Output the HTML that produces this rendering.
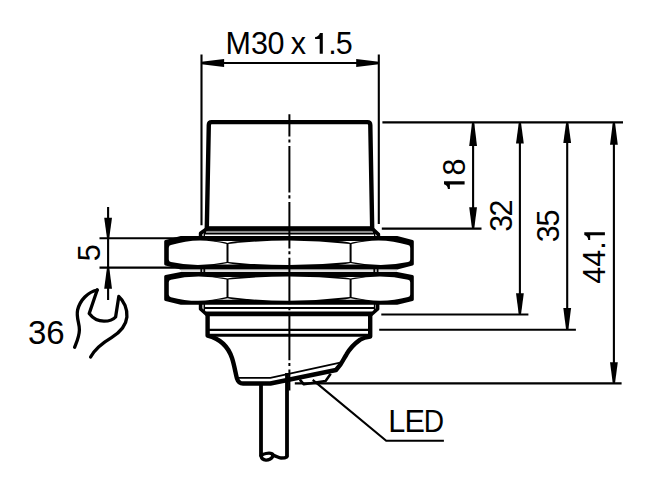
<!DOCTYPE html>
<html><head><meta charset="utf-8"><style>
html,body{margin:0;padding:0;background:#fff;}
svg{display:block;}
.t{fill:none;stroke:#000;stroke-width:2.1;}
.k{fill:none;stroke:#000;stroke-width:4.4;stroke-linejoin:round;}
.m{fill:none;stroke:#000;stroke-width:3.2;stroke-linejoin:round;}
.c{fill:none;stroke:#000;stroke-width:3.8;}
.w{fill:none;stroke:#000;stroke-width:3.3;stroke-linecap:round;stroke-linejoin:round;}
.f{fill:#000;stroke:none;}
.txt{font-family:"Liberation Sans",sans-serif;font-size:30px;fill:#000;}
</style></head><body>
<svg width="650" height="496" viewBox="0 0 650 496">
<g class="t"><path d="M201.5 54.5V225.2 M378.8 54.5V224 M201.5 63H378.8"/></g><path class="f" d="M201.50 61.80 L201.50 64.20 L224.10 66.90 L224.10 59.10Z"/><path class="f" d="M378.80 61.80 L378.80 64.20 L356.20 66.90 L356.20 59.10Z"/><text class="txt" style="font-size:30.5px" x="225.40" y="53.80">M</text><text class="txt" style="font-size:30.5px" x="251.00" y="53.80">3</text><text class="txt" style="font-size:30.5px" x="267.40" y="53.80">0</text><text class="txt" style="font-size:30.5px" x="290.80" y="53.80">x</text><text class="txt" style="font-size:30.5px" x="328.20" y="53.80">.</text><text class="txt" style="font-size:30.5px" x="335.70" y="53.80">5</text><path class="f" transform="translate(322.80 53.70)" d="M0 -20.6 V0 H-3.1 V-14.7 H-7.7 V-16.7 C-5.4 -16.7 -3.4 -18.2 -2.9 -20.6 Z"/><g class="t"><path d="M382.4 122.4H623 M381.8 228.6H481.5 M381.3 314.5H528.4 M379.2 329.8H575.9 M294.8 383.4H621.6"/><path d="M473.1 122.4V228.6 M519.9 122.4V314.5 M567.2 122.4V329.8 M613.9 122.4V383.4"/></g><path class="f" d="M471.90 123.40 L474.30 123.40 L477.00 146.10 L469.20 146.10Z"/><path class="f" d="M471.90 227.80 L474.30 227.80 L477.00 207.20 L469.20 207.20Z"/><path class="f" d="M518.70 123.40 L521.10 123.40 L523.80 143.50 L516.00 143.50Z"/><path class="f" d="M518.70 313.70 L521.10 313.70 L523.80 293.20 L516.00 293.20Z"/><path class="f" d="M566.00 123.40 L568.40 123.40 L571.10 143.10 L563.30 143.10Z"/><path class="f" d="M566.00 329.00 L568.40 329.00 L571.10 308.10 L563.30 308.10Z"/><path class="f" d="M612.70 123.40 L615.10 123.40 L617.80 144.80 L610.00 144.80Z"/><path class="f" d="M612.70 382.60 L615.10 382.60 L617.80 362.30 L610.00 362.30Z"/><text class="txt" style="font-size:30.5px" transform="translate(464.60 175.50) rotate(-90)">8</text><path class="f" transform="translate(464.60 181.30) rotate(-90)" d="M0 -20.6 V0 H-3.1 V-14.7 H-7.7 V-16.7 C-5.4 -16.7 -3.4 -18.2 -2.9 -20.6 Z"/><text class="txt" style="font-size:30.5px" transform="translate(511.60 231.70) rotate(-90)">3</text><text class="txt" style="font-size:30.5px" transform="translate(511.60 216.40) rotate(-90)">2</text><text class="txt" style="font-size:30.5px" transform="translate(558.60 242.30) rotate(-90)">3</text><text class="txt" style="font-size:30.5px" transform="translate(558.60 226.60) rotate(-90)">5</text><text class="txt" style="font-size:30.5px" transform="translate(604.90 283.80) rotate(-90)">4</text><text class="txt" style="font-size:30.5px" transform="translate(604.90 266.80) rotate(-90)">4</text><text class="txt" style="font-size:30.5px" transform="translate(604.90 249.80) rotate(-90)">.</text><path class="f" transform="translate(604.90 232.20) rotate(-90)" d="M0 -20.6 V0 H-3.1 V-14.7 H-7.7 V-16.7 C-5.4 -16.7 -3.4 -18.2 -2.9 -20.6 Z"/><g class="t"><path d="M99.5 238.3H178 M99.5 267.6H180 M108.1 207V300"/></g><path class="f" d="M106.90 237.60 L109.30 237.60 L112.00 217.80 L104.20 217.80Z"/><path class="f" d="M106.90 268.20 L109.30 268.20 L112.00 288.80 L104.20 288.80Z"/><text class="txt" style="font-size:30.5px" transform="translate(100.00 261.20) rotate(-90)">5</text><text class="txt" style="font-size:33.0px" x="27.90" y="344.10">3</text><text class="txt" style="font-size:33.0px" x="46.20" y="344.10">6</text><path class="w" d="M97.2 290 C88 292 80 300 77.6 310 C76 318 79.6 323 79.4 330 C79.2 337 76.6 342 74.6 347.3"/><path class="w" d="M97.2 290 L89.2 313.5 C93 318.5 98 321.2 104 321.2 C108.5 321.2 112.5 320.5 115.6 317 L118.8 296.5 C124 301 127.5 309 126.9 317 C126 326 119 333 111.5 337.6 C104 342 95.5 348 90.6 357"/><path class="k" d="M206.8 228.6 L208.8 125 Q208.9 122.15 211.6 122.15 L367.4 122.15 Q370.2 122.15 370.3 125 L372.2 228.6 Z"/><rect x="205" y="226.4" width="169" height="8.1" fill="#000"/><rect x="206" y="230.9" width="167" height="2.1" fill="#8a8a8a"/><path class="m" style="stroke-width:3.6" d="M207.2 228.6 L200.6 233.2 V237 M372.2 228.6 L378.4 234.4 V237"/><path class="t" style="stroke-width:1.4" d="M204.3 231V236.5 M374.7 231V236.5"/><path fill="#000" stroke="#000" stroke-width="3.2" stroke-linejoin="round" d="M165.8 241.5 L181.1 237.6 H396.9 L412.2 241.5 V264.0 L396.9 268.0 H181.1 L165.8 264.0 Z"/><path fill="#fff" d="M171.00 245.08 Q197.65 236.25 226.50 244.00 V261.90 Q197.65 267.95 171.00 262.06 Q168.80 261.80 168.80 259.60 V247.70 Q168.80 245.50 171.00 245.08 Z"/><path fill="#fff" d="M408.00 245.09 Q380.90 236.25 351.60 244.00 V261.90 Q380.90 267.95 408.00 262.06 Q410.20 261.80 410.20 259.60 V247.70 Q410.20 245.50 408.00 245.09 Z"/><path fill="#fff" d="M228.5 244.0 Q289.1 237.0 349.6 244.0 V261.9 Q289.1 267.9 228.5 261.9 Z"/><path fill="#fff" d="M215.0 241.0 Q223.5 241.4 227.5 242.9 Q231.5 241.4 240.0 241.0 Z"/><path fill="#fff" d="M215.0 264.6 Q223.5 264.2 227.5 263.0 Q231.5 264.2 240.0 264.6 Z"/><path fill="#fff" d="M338.1 241.0 Q346.6 241.4 350.6 242.9 Q354.6 241.4 363.1 241.0 Z"/><path fill="#fff" d="M338.1 264.6 Q346.6 264.2 350.6 263.0 Q354.6 264.2 363.1 264.6 Z"/><rect x="181" y="269.8" width="216" height="2.1" fill="#ddd"/><path class="t" style="stroke-width:1.8" d="M201.3 268V274 M204.3 268V274 M374.3 268V274 M377.6 268V274"/><path fill="#000" stroke="#000" stroke-width="3.2" stroke-linejoin="round" d="M165.8 276.6 L181.1 273.6 H396.9 L412.2 276.6 V299.5 L396.9 303.2 H181.1 L165.8 299.5 Z"/><path fill="#fff" d="M171.00 279.71 Q197.65 273.25 226.50 279.50 V297.10 Q197.65 304.45 171.00 297.13 Q168.80 296.80 168.80 294.60 V282.20 Q168.80 280.00 171.00 279.71 Z"/><path fill="#fff" d="M408.00 279.71 Q380.90 273.25 351.60 279.50 V297.10 Q380.90 304.45 408.00 297.12 Q410.20 296.80 410.20 294.60 V282.20 Q410.20 280.00 408.00 279.71 Z"/><path fill="#fff" d="M228.5 279.5 Q289.1 273.5 349.6 279.5 V297.1 Q289.1 304.3 228.5 297.1 Z"/><path fill="#fff" d="M215.0 277.0 Q223.5 277.4 227.5 278.4 Q231.5 277.4 240.0 277.0 Z"/><path fill="#fff" d="M215.0 299.8 Q223.5 299.4 227.5 298.2 Q231.5 299.4 240.0 299.8 Z"/><path fill="#fff" d="M338.1 277.0 Q346.6 277.4 350.6 278.4 Q354.6 277.4 363.1 277.0 Z"/><path fill="#fff" d="M338.1 299.8 Q346.6 299.4 350.6 298.2 Q354.6 299.4 363.1 299.8 Z"/><path class="m" style="stroke-width:3.6" d="M200.6 303 V309 L207.8 315.5 M377.6 303 V309 L370.2 315.5"/><path class="t" style="stroke-width:1.5" d="M204.3 304V311 M374.6 304V311"/><path class="t" style="stroke-width:2.2" d="M204 308H375"/><path class="t" style="stroke-width:4.6" d="M206 313.9H372"/><path class="k" d="M207.6 314.5 V335.5 C219 338.5 228 346 232 358 C234.6 366 235.6 374 237 378.6 Q238.6 383.5 243 383.5 H270.4 L336 370 L340.6 364.3 C342.5 361.5 344.5 357.5 346.6 354.2 C349 350 354 344 360.2 339.6 Q364 337.5 370.2 336.6 V314.5"/><path class="t" style="stroke-width:2.2" d="M207.6 329.9H370"/><path class="t" style="stroke-width:3" d="M207.6 335.3H370"/><path class="t" style="stroke-width:1.8" d="M238.6 377.8 H270.4 L341.3 362.4"/><path class="m" style="stroke-width:2.6" d="M299.8 379.6 L303.9 384.3 L325.6 381 L330.7 373.8"/><path class="t" d="M312.7 379.9 L386.2 440.7 H443.9"/><text class="txt" style="font-size:30.6px" x="388.30" y="431.80">L</text><text class="txt" style="font-size:30.6px" x="404.50" y="431.80">E</text><text class="txt" style="font-size:30.6px" transform="translate(423.8 431.8) scale(0.92 1)">D</text><path class="c" d="M261 385 V456.5 M287 373 V456.8"/><path class="w" d="M261 456.2 C262 461 269 461.5 272.5 457 C275 454 271 452.5 266 453.5 C262.5 454.2 261 455.5 261 456.2 M272.5 455.5 C276 455.5 278 458 281 458 C284 458 286 457.5 287 456.8"/><path class="t" style="stroke-width:2.0" stroke-dasharray="46.5 2.8 3.1 3.5" stroke-dashoffset="24.2" d="M289.4 114.3V390.4"/>
</svg>
</body></html>
